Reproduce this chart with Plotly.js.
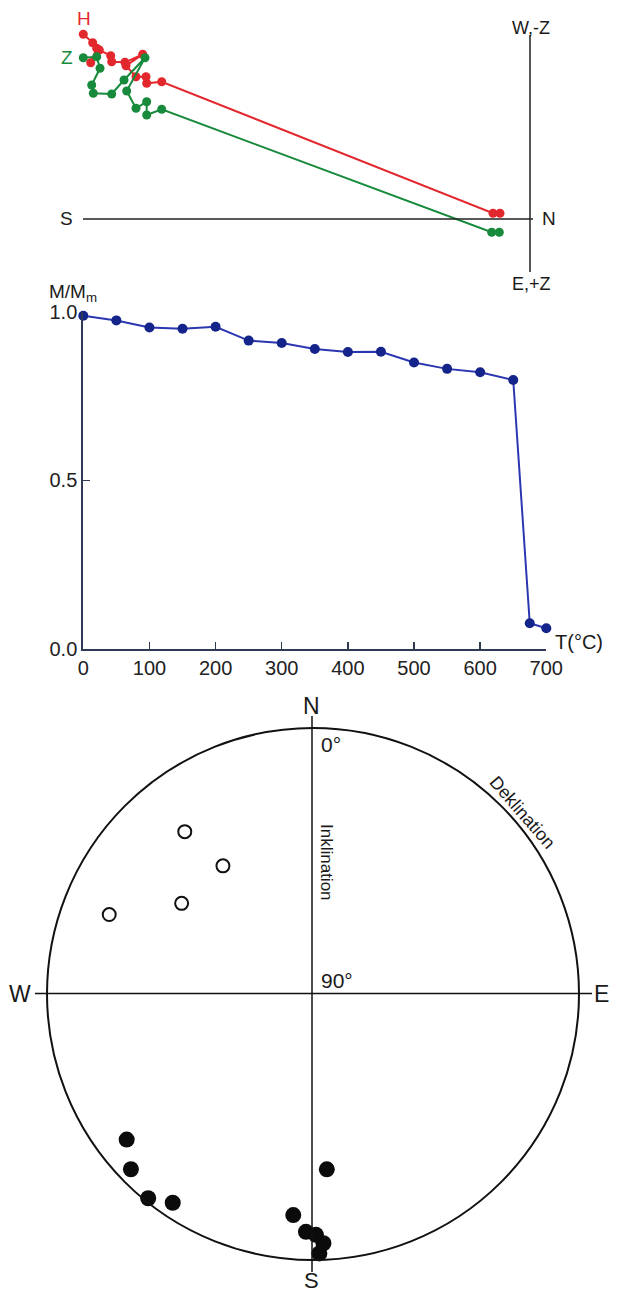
<!DOCTYPE html>
<html>
<head>
<meta charset="utf-8">
<script src="https://cdn.plot.ly/plotly-3.0.1.min.js"></script>
<style>html,body{margin:0;padding:0;background:#fff;}#chart{width:617px;height:1292px;}</style>
</head>
<body>
<div id="chart"></div>
<script>
// ---- Zijderveld diagram (arbitrary units, origin at axis crossing) ----
const hNorth = [-4.467,-4.373,-4.333,-4.393,-4.307,-4.193,-4.183,-4.05,-3.873,-4.04,-3.94,-3.84,-3.833,-3.683,-0.37,-0.30];
const hWest  = [1.847,1.763,1.707,1.563,1.69,1.633,1.573,1.567,1.647,1.533,1.423,1.423,1.357,1.373,0.057,0.057];
const zNorth = [-4.467,-4.333,-4.30,-4.383,-4.367,-4.183,-4.06,-3.85,-4.033,-3.94,-3.833,-3.833,-3.683,-0.383,-0.307];
const zUp    = [1.613,1.623,1.507,1.34,1.257,1.25,1.39,1.613,1.28,1.107,1.173,1.04,1.097,-0.133,-0.133];

// ---- Thermal demagnetization ----
const tempC = [0,50,100,150,200,250,300,350,400,450,500,550,600,650,675,700];
const mRel  = [0.989,0.975,0.954,0.950,0.956,0.915,0.908,0.890,0.881,0.882,0.850,0.831,0.821,0.798,0.075,0.060];
const tempTicks = [0,100,200,300,400,500,600,700];
const mTicks = [0,0.5,1.0];
const mTickText = ['0.0','0.5','1.0'];

// ---- Stereonet (declination, inclination in degrees) ----
const upperDec = [321.7,324.9,304.6,291.3];
const upperInc = [-20,-37,-36,-16];
const lowerDec = [232.0,226.1,218.9,213.9,175.5,185.1,181.7,179.3,177.6,178.6];
const lowerInc = [10,4.5,1.2,4.9,30.5,14.9,9.5,8.5,5.6,2.2];

const FONT = 'Liberation Sans, Arial, sans-serif';
const RED = '#e3282d', GREEN = '#178a3b';
const W = 617, H = 1292;
const px = v => v / W;
const py = v => 1 - v / H;

const traces = [
  {x:hNorth, y:hWest, xaxis:'x', yaxis:'y', mode:'lines+markers', type:'scatter',
   line:{color:RED, width:2}, marker:{color:RED, size:9}, cliponaxis:false, hoverinfo:'skip'},
  {x:zNorth, y:zUp, xaxis:'x', yaxis:'y', mode:'lines+markers', type:'scatter',
   line:{color:GREEN, width:2}, marker:{color:GREEN, size:9}, cliponaxis:false, hoverinfo:'skip'},
  {x:tempC, y:mRel, xaxis:'x2', yaxis:'y2', mode:'lines+markers', type:'scatter',
   line:{color:'#2b37b0', width:2}, marker:{color:'#15248a', size:10}, cliponaxis:false, hoverinfo:'skip'},
  {type:'scatterpolar', subplot:'polar', theta:upperDec, r:upperInc.map(i => 90 - Math.abs(i)),
   mode:'markers', marker:{symbol:'circle-open', color:'#111', size:13, line:{width:2}}, cliponaxis:false, hoverinfo:'skip'},
  {type:'scatterpolar', subplot:'polar', theta:lowerDec, r:lowerInc.map(i => 90 - Math.abs(i)),
   mode:'markers', marker:{symbol:'circle', color:'#0b0b0b', size:16}, cliponaxis:false, hoverinfo:'skip'}
];

const axisColor = '#2f3a55';
function lab(text, x, y, size, extra) {
  return Object.assign({text:text, x:px(x), y:py(y), xref:'paper', yref:'paper',
    xanchor:'center', yanchor:'middle', showarrow:false, font:{size:size, family:FONT, color:'#1a1a1a'}}, extra || {});
}
const layout = {
  width: W, height: H, autosize:false,
  margin:{l:0,r:0,t:0,b:0},
  paper_bgcolor:'#fff', plot_bgcolor:'rgba(0,0,0,0)',
  showlegend:false,
  font:{family:FONT, color:'#1a1a1a', size:18},
  xaxis:{domain:[0,1], range:[-5.30,0.87], visible:false, fixedrange:true},
  yaxis:{domain:[py(290),1], range:[-0.71,2.19], visible:false, fixedrange:true},
  xaxis2:{domain:[px(83.3), px(546.3)], range:[0,700], anchor:'y2',
    tickvals:tempTicks, ticks:'inside', ticklen:7, tickwidth:1.5, tickcolor:axisColor,
    showline:true, linecolor:axisColor, linewidth:2, showgrid:false, zeroline:false,
    tickfont:{size:20, color:'#222', family:FONT}},
  yaxis2:{domain:[py(648.5), py(312)], range:[0,1], anchor:'x2',
    tickvals:mTicks, ticktext:mTickText, ticks:'inside', ticklen:7, tickwidth:1.5, tickcolor:axisColor,
    showline:true, linecolor:axisColor, linewidth:2, showgrid:false, zeroline:false,
    tickfont:{size:20, color:'#222', family:FONT}},
  polar:{domain:{x:[px(47), px(579)], y:[py(1260), py(728)]}, bgcolor:'rgba(0,0,0,0)',
    angularaxis:{rotation:90, direction:'clockwise', showline:true, linecolor:'#111', linewidth:2,
      showgrid:false, showticklabels:false, ticks:''},
    radialaxis:{visible:false, range:[0,90]}},
  shapes:[
    {type:'line', xref:'x', yref:'y', x0:-4.47, x1:0.03, y0:0, y1:0, line:{color:'#222', width:1.5}},
    {type:'line', xref:'x', yref:'y', x0:0, x1:0, y0:1.84, y1:-0.53, line:{color:'#222', width:1.5}},
    {type:'line', xref:'paper', yref:'paper', x0:px(35), x1:px(592), y0:py(993.5), y1:py(993.5), line:{color:'#111', width:1.5}},
    {type:'line', xref:'paper', yref:'paper', x0:px(312), x1:px(312), y0:py(716), y1:py(1272), line:{color:'#111', width:1.5}}
  ],
  annotations:[
    lab('H', 84, 18, 19, {font:{size:19, family:FONT, color:RED}}),
    lab('Z', 67, 58, 19, {font:{size:19, family:FONT, color:GREEN}}),
    lab('W,-Z', 531, 28, 18),
    lab('E,+Z', 531, 284, 18),
    lab('S', 66, 219, 19),
    lab('N', 549, 219, 19),
    lab('M/M<sub>m</sub>', 47, 293, 19, {xanchor:'left'}),
    lab('T(°C)', 553, 642, 20, {xanchor:'left'}),
    lab('N', 312, 706, 23),
    lab('S', 311, 1280, 22),
    lab('W', 20, 994, 23),
    lab('E', 601, 994, 23),
    lab('0°', 319, 744, 21, {xanchor:'left'}),
    lab('90°', 319, 980, 21, {xanchor:'left'}),
    lab('Inklination', 327, 862, 17, {textangle:90}),
    lab('Deklination', 522, 812, 18, {textangle:49})
  ]
};

Plotly.newPlot('chart', traces, layout, {staticPlot:true, displayModeBar:false});
</script>
</body>
</html>
